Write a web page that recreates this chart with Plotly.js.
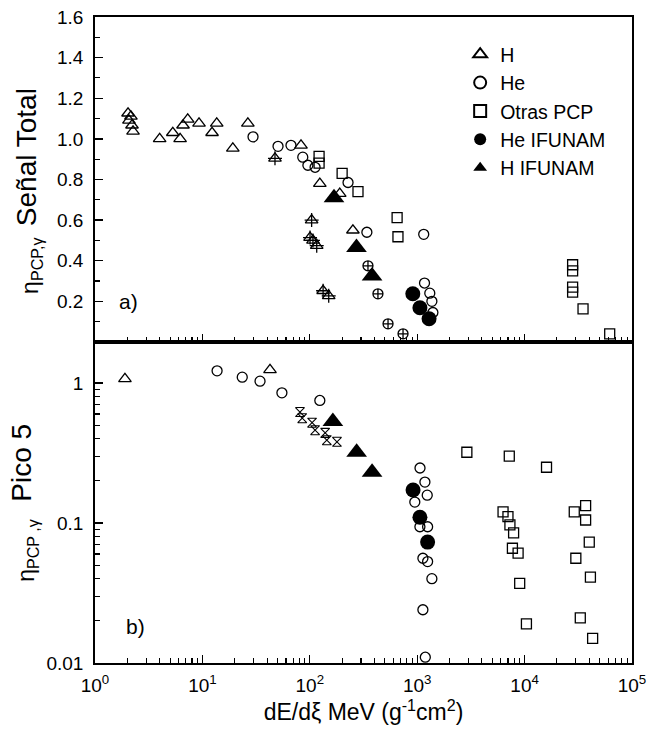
<!DOCTYPE html>
<html>
<head>
<meta charset="utf-8">
<script src="https://cdn.plot.ly/plotly-3.0.1.min.js"></script>
<style>html,body{margin:0;padding:0;background:#fff;}#chart{width:647px;height:733px;}</style>
</head>
<body>
<div id="chart"></div>
<script>
// ---- Data ----
// Panel a) Señal Total (linear y)
const hTopX = [2.03, 2.16, 2.07, 2.21, 2.26, 4.0, 5.3, 6.2, 6.6, 7.3, 9.3, 12.3, 13.6, 19.2, 26.5, 82.8, 124, 190, 252];
const hTopY = [1.126, 1.111, 1.091, 1.067, 1.037, 1.00, 1.03, 1.00, 1.067, 1.096, 1.076, 1.03, 1.076, 0.953, 1.076, 0.968, 0.78, 0.73, 0.55];
const hCrossTopX = [47.4, 104, 100.5, 107, 116, 133, 150];
const hCrossTopY = [0.904, 0.60, 0.514, 0.50, 0.474, 0.252, 0.227];
const heTopX = [29.6, 50.6, 66.8, 86, 96, 112, 227, 340, 1150, 1170, 1310, 1370, 1400];
const heTopY = [1.01, 0.963, 0.968, 0.91, 0.87, 0.86, 0.785, 0.54, 0.53, 0.29, 0.24, 0.20, 0.145];
const heCrossTopX = [348, 431, 535, 738];
const heCrossTopY = [0.375, 0.237, 0.089, 0.04];
const otrasTopX = [122, 122, 200, 281, 650, 662, 28000, 28000, 28000, 28000, 35000, 62000];
const otrasTopY = [0.914, 0.88, 0.83, 0.74, 0.612, 0.518, 0.38, 0.35, 0.27, 0.245, 0.163, 0.04];
const heIfTopX = [910, 1060, 1290];
const heIfTopY = [0.237, 0.168, 0.114];
const hIfTopX = [168, 272, 380];
const hIfTopY = [0.71, 0.465, 0.325];

// Panel b) Pico 5 (log y)
const hBotX = [1.9, 42.6];
const hBotY = [1.07, 1.24];
const hHourX = [81, 85, 105, 112, 139, 144, 179];
const hHourY = [0.62, 0.56, 0.52, 0.46, 0.44, 0.39, 0.38];
const heBotX = [13.7, 23.5, 34.4, 55, 124, 1062, 1180, 1240, 950, 1060, 1250, 1130, 1250, 1370, 1130, 1190];
const heBotY = [1.22, 1.10, 1.03, 0.85, 0.75, 0.247, 0.196, 0.158, 0.141, 0.094, 0.094, 0.056, 0.053, 0.040, 0.024, 0.011];
const heIfBotX = [915, 1060, 1250];
const heIfBotY = [0.172, 0.110, 0.073];
const hIfBotX = [164, 273, 380];
const hIfBotY = [0.53, 0.32, 0.23];
const otrasBotX = [2900, 7200, 16000, 6300, 7000, 7300, 7900, 7700, 8700, 9000, 10400, 29000, 37000, 37000, 40000, 30000, 41000, 33000, 43000];
const otrasBotY = [0.32, 0.30, 0.25, 0.12, 0.111, 0.097, 0.085, 0.066, 0.061, 0.037, 0.019, 0.12, 0.133, 0.105, 0.073, 0.056, 0.041, 0.021, 0.015];

// Tick labels
const xTickVals = [1, 10, 100, 1000, 10000, 100000];
const xTickText = ['10<sup>0</sup>', '10<sup>1</sup>', '10<sup>2</sup>', '10<sup>3</sup>', '10<sup>4</sup>', '10<sup>5</sup>'];
const yTopTickVals = [0.2, 0.4, 0.6, 0.8, 1.0, 1.2, 1.4, 1.6];
const yTopTickText = ['0.2', '0.4', '0.6', '0.8', '1.0', '1.2', '1.4', '1.6'];
const yBotTickVals = [0.01, 0.1, 1];
const yBotTickText = ['0.01', '0.1', '1'];

const seriesNames = ['H', 'He', 'Otras PCP', 'He IFUNAM', 'H IFUNAM'];

// minor tick positions (2..9 within each decade)
function logMinor(lo, hi) {
  const v = [];
  for (let d = lo; d < hi; d++) for (let m = 2; m <= 9; m++) v.push(m * Math.pow(10, d));
  return v;
}
const xMinor = logMinor(0, 5);
const yBotMinor = logMinor(-2, 1);
const yTopMinor = [0.1, 0.3, 0.5, 0.7, 0.9, 1.1, 1.3, 1.5];

// ---- Traces ----
const K = '#000';
const openLine = {color: K, width: 1.3};
function tr(x, y, yaxis, name, show, marker, xaxis) {
  return {x: x, y: y, xaxis: xaxis, yaxis: yaxis, type: 'scatter', mode: 'markers',
          name: name, showlegend: show, legendgroup: name, marker: marker, hoverinfo: 'x+y'};
}
const traces = [
  // top panel
  tr(hTopX, hTopY, 'y2', seriesNames[0], true, {symbol: 'triangle-up-open', size: 11, color: K, line: openLine}, 'x2'),
  tr(hCrossTopX, hCrossTopY, 'y2', seriesNames[0], false, {symbol: 'triangle-up-open', size: 11, color: K, line: openLine}, 'x2'),
  tr(hCrossTopX, hCrossTopY, 'y2', seriesNames[0], false, {symbol: 'cross-thin-open', size: 10, color: K, line: openLine}, 'x2'),
  tr(heTopX, heTopY, 'y2', seriesNames[1], true, {symbol: 'circle-open', size: 10, color: K, line: openLine}, 'x2'),
  tr(heCrossTopX, heCrossTopY, 'y2', seriesNames[1], false, {symbol: 'circle-cross-open', size: 10, color: K, line: openLine}, 'x2'),
  tr(otrasTopX, otrasTopY, 'y2', seriesNames[2], true, {symbol: 'square-open', size: 10, color: K, line: openLine}, 'x2'),
  tr(heIfTopX, heIfTopY, 'y2', seriesNames[3], true, {symbol: 'circle', size: 15, color: K}, 'x2'),
  tr(hIfTopX, hIfTopY, 'y2', seriesNames[4], true, {symbol: 'triangle-up', size: 18, color: K}, 'x2'),
  // bottom panel
  tr(hBotX, hBotY, 'y', seriesNames[0], false, {symbol: 'triangle-up-open', size: 11, color: K, line: openLine}, 'x'),
  tr(hHourX, hHourY, 'y', seriesNames[0], false, {symbol: 'hourglass-open', size: 9, color: K, line: {color: K, width: 1.1}}, 'x'),
  tr(heBotX, heBotY, 'y', seriesNames[1], false, {symbol: 'circle-open', size: 10, color: K, line: openLine}, 'x'),
  tr(otrasBotX, otrasBotY, 'y', seriesNames[2], false, {symbol: 'square-open', size: 10, color: K, line: openLine}, 'x'),
  tr(heIfBotX, heIfBotY, 'y', seriesNames[3], false, {symbol: 'circle', size: 15, color: K}, 'x'),
  tr(hIfBotX, hIfBotY, 'y', seriesNames[4], false, {symbol: 'triangle-up', size: 18, color: K}, 'x')
];

const FONT = 'Liberation Sans, Arial, Helvetica, sans-serif';
const axisCommon = {
  showline: true, linecolor: K, linewidth: 1.8, mirror: true,
  showgrid: false, zeroline: false, ticks: 'inside', tickcolor: K, tickwidth: 1.3,
  ticklen: 8, tickfont: {family: FONT, size: 19, color: K}
};
function minorArr(vals) {
  return {tickmode: 'array', tickvals: vals, ticks: 'inside', ticklen: 5, tickcolor: K, tickwidth: 1.1, showgrid: false};
}

const layout = {
  width: 647, height: 733,
  margin: {l: 95, r: 15, t: 17, b: 70},
  paper_bgcolor: '#fff', plot_bgcolor: '#fff',
  font: {family: FONT, color: K},
  showlegend: true,
  legend: {x: 0.68, y: 0.972, xanchor: 'left', yanchor: 'top', bgcolor: 'rgba(0,0,0,0)',
           font: {family: FONT, size: 19.5, color: K}, itemsizing: 'constant', tracegroupgap: 0},
  xaxis: Object.assign({}, axisCommon, {
    type: 'log', range: [0, 5], domain: [0, 1], anchor: 'y',
    tickmode: 'array', tickvals: xTickVals, ticktext: xTickText, ticklabelstandoff: 4,
    minor: minorArr(xMinor),
    title: {text: 'dE/dξ MeV (g<sup>-1</sup>cm<sup>2</sup>)', font: {family: FONT, size: 23, color: K}, standoff: 9}
  }),
  xaxis2: Object.assign({}, axisCommon, {
    type: 'log', range: [0, 5], domain: [0, 1], anchor: 'y2', matches: 'x',
    tickmode: 'array', tickvals: xTickVals, showticklabels: false,
    minor: minorArr(xMinor)
  }),
  yaxis: Object.assign({}, axisCommon, {
    type: 'log', range: [-2, 0.293], domain: [0, 0.497], anchor: 'x',
    tickmode: 'array', tickvals: yBotTickVals, ticktext: yBotTickText, ticklabelstandoff: 6,
    minor: minorArr(yBotMinor)
  }),
  yaxis2: Object.assign({}, axisCommon, {
    range: [0, 1.6], domain: [0.497, 1], anchor: 'x2',
    tickmode: 'array', tickvals: yTopTickVals, ticktext: yTopTickText, ticklabelstandoff: 6,
    minor: minorArr(yTopMinor)
  }),
  annotations: [
    {xref: 'paper', yref: 'paper', x: -0.1285, y: 0.783, xanchor: 'center', yanchor: 'middle', textangle: -90,
     text: 'Señal Total', showarrow: false, font: {family: FONT, size: 28, color: K}},
    {xref: 'paper', yref: 'paper', x: -0.117, y: 0.615, xanchor: 'center', yanchor: 'middle', textangle: -90,
     text: 'η<sub>PCP,γ</sub>', showarrow: false, font: {family: FONT, size: 23, color: K}},
    {xref: 'paper', yref: 'paper', x: -0.136, y: 0.31, xanchor: 'center', yanchor: 'middle', textangle: -90,
     text: 'Pico 5', showarrow: false, font: {family: FONT, size: 28, color: K}},
    {xref: 'paper', yref: 'paper', x: -0.125, y: 0.175, xanchor: 'center', yanchor: 'middle', textangle: -90,
     text: 'η<sub>PCP ,γ</sub>', showarrow: false, font: {family: FONT, size: 23, color: K}},
    {xref: 'paper', yref: 'paper', x: 0.063, y: 0.559, xanchor: 'center', yanchor: 'middle',
     text: 'a)', showarrow: false, font: {family: FONT, size: 21, color: K}},
    {xref: 'paper', yref: 'paper', x: 0.076, y: 0.056, xanchor: 'center', yanchor: 'middle',
     text: 'b)', showarrow: false, font: {family: FONT, size: 21, color: K}}
  ]
};

Plotly.newPlot('chart', traces, layout, {displayModeBar: false, staticPlot: true});
</script>
</body>
</html>
